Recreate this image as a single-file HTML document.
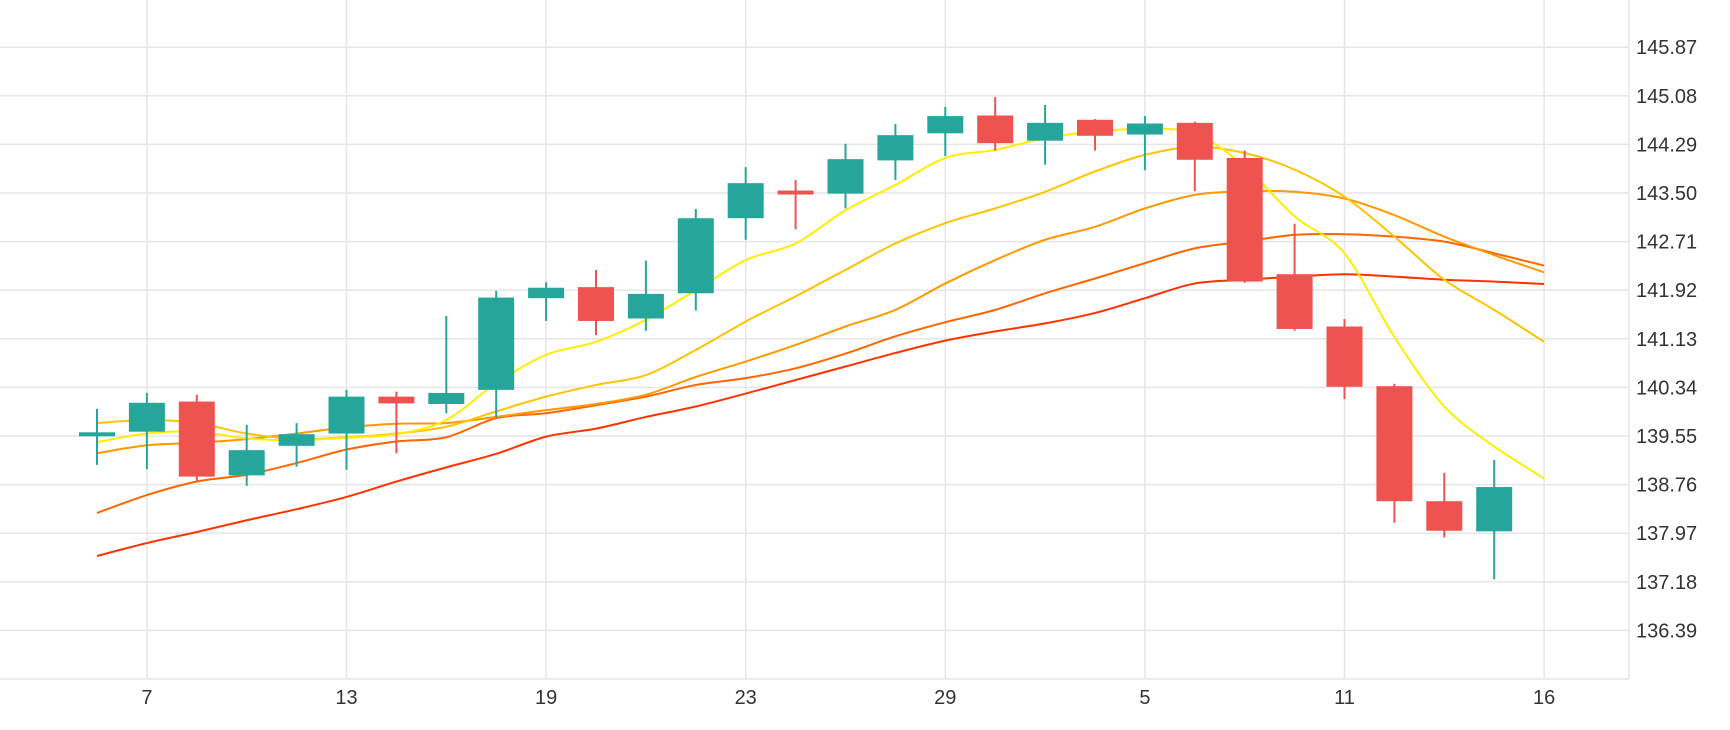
<!DOCTYPE html>
<html><head><meta charset="utf-8"><style>
html,body{margin:0;padding:0;background:#fff;}
svg{display:block;font-family:"Liberation Sans","DejaVu Sans",sans-serif;}
</style></head><body>
<svg id="chart" width="1730" height="730" viewBox="0 0 1730 730" xmlns="http://www.w3.org/2000/svg">
<g id="grid"></g>
<g id="lines"></g>
<g id="candles"></g>
<g id="axes"></g>
</svg>
<script>
const xTickLabels = ["7","13","19","23","29","5","11","16"];
const xTickIndex = [1,5,9,13,17,21,25,29];
const yTicks = [136.39,137.18,137.97,138.76,139.55,140.34,141.13,141.92,142.71,143.50,144.29,145.08,145.87];
const opens  = [139.57,139.62,140.11,138.91,139.39,139.59,140.19,140.07,140.30,141.79,141.97,141.46,141.87,143.09,143.54,143.49,144.03,144.47,144.76,144.35,144.69,144.45,144.64,144.07,142.18,141.33,140.36,138.49,138.00];
const highs  = [139.99,140.25,140.22,139.73,139.76,140.30,140.27,141.50,141.91,142.05,142.25,142.40,143.24,143.92,143.71,144.30,144.62,144.90,145.06,144.93,144.70,144.75,144.66,144.19,143.00,141.45,140.40,138.95,139.16];
const lows   = [139.08,139.01,138.81,138.74,139.05,139.00,139.27,139.92,139.84,141.42,141.19,141.26,141.59,142.74,142.91,143.25,143.71,144.10,144.19,143.96,144.19,143.87,143.53,142.04,141.26,140.15,138.14,137.90,137.22];
const closes = [139.61,140.09,138.89,139.32,139.58,140.19,140.08,140.25,141.80,141.96,141.42,141.86,143.09,143.66,143.49,144.05,144.44,144.75,144.31,144.64,144.43,144.63,144.04,142.06,141.29,140.35,138.49,138.01,138.72];
const ma1 = [139.45,139.59,139.62,139.51,139.48,139.52,139.58,139.81,140.41,140.87,141.08,141.44,141.92,142.41,142.68,143.22,143.63,144.07,144.20,144.39,144.50,144.54,144.47,143.93,143.12,142.52,141.16,140.03,139.38,138.86];
const ma2 = [139.76,139.81,139.76,139.59,139.50,139.53,139.59,139.70,139.95,140.19,140.38,140.54,140.95,141.41,141.82,142.25,142.68,143.01,143.25,143.52,143.85,144.12,144.25,144.15,143.88,143.44,142.79,142.09,141.60,141.08];
const ma3 = [139.27,139.40,139.44,139.50,139.59,139.69,139.75,139.76,139.86,139.97,140.07,140.22,140.51,140.76,141.03,141.33,141.60,142.03,142.41,142.74,142.95,143.25,143.47,143.53,143.52,143.41,143.14,142.79,142.49,142.21];
const ma4 = [138.30,138.59,138.81,138.92,139.11,139.33,139.46,139.53,139.84,139.92,140.05,140.19,140.38,140.49,140.65,140.89,141.17,141.40,141.60,141.87,142.11,142.36,142.60,142.71,142.82,142.83,142.79,142.71,142.52,142.32];
const ma5 = [137.60,137.81,137.99,138.18,138.36,138.56,138.81,139.04,139.26,139.54,139.67,139.86,140.03,140.24,140.46,140.68,140.90,141.10,141.25,141.38,141.55,141.79,142.03,142.09,142.14,142.18,142.14,142.09,142.06,142.02];

const NS="http://www.w3.org/2000/svg";
const PR=1629, PB=679;
function xS(i){return 97+49.9*i;}
function yS(v){return 436-(v-139.55)*61.52;}
function mk(tag,attrs,parent){const e=document.createElementNS(NS,tag);for(const k in attrs)e.setAttribute(k,attrs[k]);parent.appendChild(e);return e;}
const grid=document.getElementById('grid'),axes=document.getElementById('axes'),lg=document.getElementById('lines'),cg=document.getElementById('candles');

yTicks.forEach((v,i)=>{
  const l=mk('line',{x1:0,x2:PR,y1:yS(v),y2:yS(v),stroke:'#e6e6e6','stroke-width':1.5},grid);
  
  
  const t=mk('text',{x:1636,y:yS(v)+7,'font-size':20,fill:'#333'},axes);
  t.textContent=v.toFixed(2);
  
  
});
xTickIndex.forEach((k,i)=>{
  const l=mk('line',{x1:xS(k),x2:xS(k),y1:0,y2:PB,stroke:'#e6e6e6','stroke-width':1.5},grid);
  
  
  const t=mk('text',{x:xS(k),y:704,'font-size':20,fill:'#333','text-anchor':'middle'},axes);
  t.textContent=xTickLabels[i];
  
  
});
const ax1=mk('line',{x1:PR,x2:PR,y1:0,y2:PB,stroke:'#e6e6e6','stroke-width':1.5},axes);


const ax2=mk('line',{x1:0,x2:PR,y1:PB,y2:PB,stroke:'#e6e6e6','stroke-width':1.5},axes);



function smooth(vals){
  const p=vals.map((v,i)=>[xS(i),yS(v)]);
  let d='M'+p[0][0]+','+p[0][1];
  for(let i=0;i<p.length-1;i++){
    const p0=p[Math.max(0,i-1)],p1=p[i],p2=p[i+1],p3=p[Math.min(p.length-1,i+2)];
    const t=0.16;
    d+=' C'+(p1[0]+(p2[0]-p0[0])*t)+','+(p1[1]+(p2[1]-p0[1])*t)+' '+(p2[0]-(p3[0]-p1[0])*t)+','+(p2[1]-(p3[1]-p1[1])*t)+' '+p2[0]+','+p2[1];
  }
  return d;
}
[[ma5,'#ff3300','ma-line-5'],[ma4,'#ff6600','ma-line-4'],[ma3,'#ff9900','ma-line-3'],[ma2,'#ffc400','ma-line-2'],[ma1,'#ffee00','ma-line-1']].forEach(s=>{
  const p=mk('path',{d:smooth(s[0]),fill:'none',stroke:s[1],'stroke-width':2},lg);
  
  
});

opens.forEach((o,i)=>{
  const c=closes[i],up=c>=o,col=up?'#26a69a':'#ef5350';
  const x=xS(i);
  const g=mk('g',{},cg);
  
  
  mk('line',{x1:x,x2:x,y1:yS(highs[i]),y2:yS(lows[i]),stroke:col,'stroke-width':2},g);
  const top=yS(Math.max(o,c)),bot=yS(Math.min(o,c));
  mk('rect',{x:x-18,y:top,width:36,height:Math.max(bot-top,4),fill:col},g);
});
</script>
</body></html>
